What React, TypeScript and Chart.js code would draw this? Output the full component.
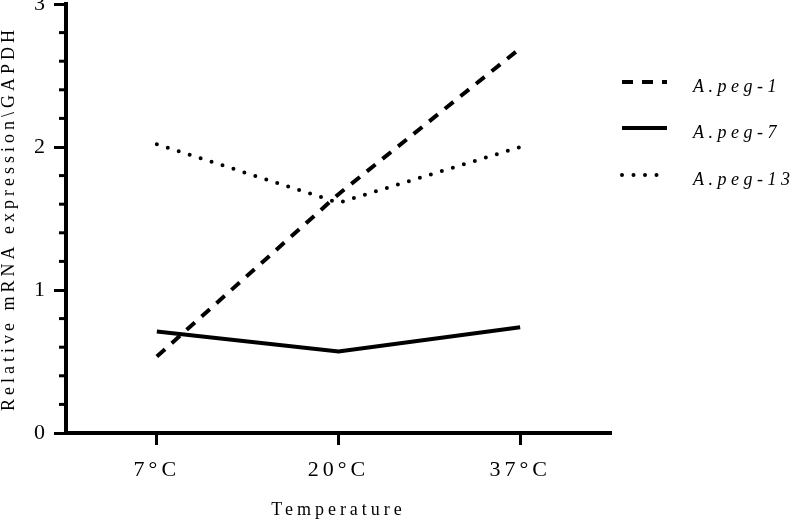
import React, { useEffect, useRef } from "react";
import { Chart, registerables } from "chart.js";

Chart.register(...registerables);

const categories = ["7°C", "20°C", "37°C"];
const seriesNames = ["A.peg-1", "A.peg-7", "A.peg-13"];
const peg1Values = [0.535, 1.67, 2.69];
const peg7Values = [0.71, 0.57, 0.74];
const peg13Values = [2.02, 1.61, 2.0];
const yMin = 0;
const yMax = 3;
const yMinorStep = 0.2;
const yTitle = "Relative mRNA expression\\GAPDH";
const xTitle = "Temperature";

const FONT = "Liberation Serif";
const isMajor = (v: number) => Math.abs(v - Math.round(v)) < 1e-6;

const stylingPlugin = {
  id: "styling",
  beforeDraw(chart: any) {
    chart.ctx.letterSpacing = "4px";
  },
  afterDraw(chart: any) {
    const ctx = chart.ctx;
    const ys = chart.scales.y;
    const area = chart.chartArea;
    ctx.save();
    // minor ticks
    ctx.strokeStyle = "#000";
    ctx.lineWidth = 3;
    ctx.setLineDash([]);
    ys.ticks.forEach((t: any) => {
      if (!isMajor(t.value)) {
        const py = ys.getPixelForValue(t.value);
        ctx.beginPath();
        ctx.moveTo(area.left - 7, py);
        ctx.lineTo(area.left, py);
        ctx.stroke();
      }
    });
    // legend
    const rows = [82, 128, 175];
    const x0 = area.right + 11;
    const x1 = area.right + 56;
    const tx = area.right + 82;
    chart.data.datasets.forEach((ds: any, i: number) => {
      const y = rows[i];
      ctx.save();
      ctx.strokeStyle = ds.borderColor;
      ctx.lineWidth = ds.borderWidth;
      ctx.lineCap = ds.borderCapStyle || "butt";
      ctx.setLineDash(ds.borderDash || []);
      ctx.beginPath();
      ctx.moveTo(x0, y);
      ctx.lineTo(x1, y);
      ctx.stroke();
      ctx.restore();
      ctx.save();
      ctx.letterSpacing = "4.5px";
      ctx.font = `italic 18px "${FONT}"`;
      ctx.fillStyle = "#000";
      ctx.textAlign = "left";
      ctx.textBaseline = "alphabetic";
      ctx.fillText(ds.label, tx, y + 10);
      ctx.restore();
    });
    ctx.restore();
  },
};

export default function App() {
  const ref = useRef<HTMLCanvasElement | null>(null);
  useEffect(() => {
    if (!ref.current) return;
    Chart.defaults.font.family = FONT;
    Chart.defaults.color = "#000";
    const chart = new Chart(ref.current, {
      type: "line",
      data: {
        labels: categories,
        datasets: [
          {
            label: seriesNames[0],
            data: peg1Values,
            borderColor: "#000",
            borderWidth: 4,
            borderDash: [11, 9],
            borderCapStyle: "butt",
            pointRadius: 0,
            fill: false,
            tension: 0,
          },
          {
            label: seriesNames[1],
            data: peg7Values,
            borderColor: "#000",
            borderWidth: 4,
            borderDash: [],
            borderCapStyle: "butt",
            pointRadius: 0,
            fill: false,
            tension: 0,
          },
          {
            label: seriesNames[2],
            data: peg13Values,
            borderColor: "#000",
            borderWidth: 4,
            borderDash: [0, 11.5],
            borderCapStyle: "round",
            pointRadius: 0,
            fill: false,
            tension: 0,
          },
        ],
      },
      options: {
        animation: false,
        responsive: true,
        maintainAspectRatio: false,
        devicePixelRatio: 1,
        layout: { padding: { top: 4, right: 182, bottom: 0, left: 0 } },
        plugins: {
          legend: { display: false },
          tooltip: { enabled: false },
        },
        scales: {
          x: {
            type: "category",
            offset: true,
            grid: {
              display: true,
              drawOnChartArea: false,
              offset: false,
              tickLength: 12,
              tickWidth: 3,
              tickColor: "#000",
            },
            border: { display: true, color: "#000", width: 4 },
            ticks: {
              color: "#000",
              font: { family: FONT, size: 22 },
              padding: 12,
              maxRotation: 0,
              autoSkip: false,
            },
            title: {
              display: true,
              text: xTitle,
              color: "#000",
              font: { family: FONT, size: 18, lineHeight: 1 },
              padding: 0,
            },
            afterFit: (s: any) => {
              s.height = 86;
              s.paddingLeft = 0;
              s.paddingRight = 0;
            },
          },
          y: {
            min: yMin,
            max: yMax,
            grid: {
              display: true,
              drawOnChartArea: false,
              tickLength: 12,
              tickWidth: 3,
              tickColor: (c: any) => (c.tick && isMajor(c.tick.value) ? "#000" : "rgba(0,0,0,0)"),
            },
            border: { display: true, color: "#000", width: 4 },
            ticks: {
              stepSize: yMinorStep,
              autoSkip: false,
              color: "#000",
              font: { family: FONT, size: 22 },
              padding: 5,
              callback: (v: any) => (isMajor(Number(v)) ? String(Math.round(Number(v))) : ""),
            },
            title: {
              display: true,
              text: yTitle,
              color: "#000",
              font: { family: FONT, size: 18, lineHeight: 1 },
              padding: 0,
            },
            afterFit: (s: any) => {
              s.width = 66;
              s.paddingTop = 0;
              s.paddingBottom = 0;
            },
          },
        },
      },
      plugins: [stylingPlugin],
    } as any);
    return () => chart.destroy();
  }, []);
  return (
    <div style={{ position: "absolute", left: 0, top: 0, width: 793, height: 519, background: "#fff" }}>
      <canvas ref={ref} />
    </div>
  );
}
